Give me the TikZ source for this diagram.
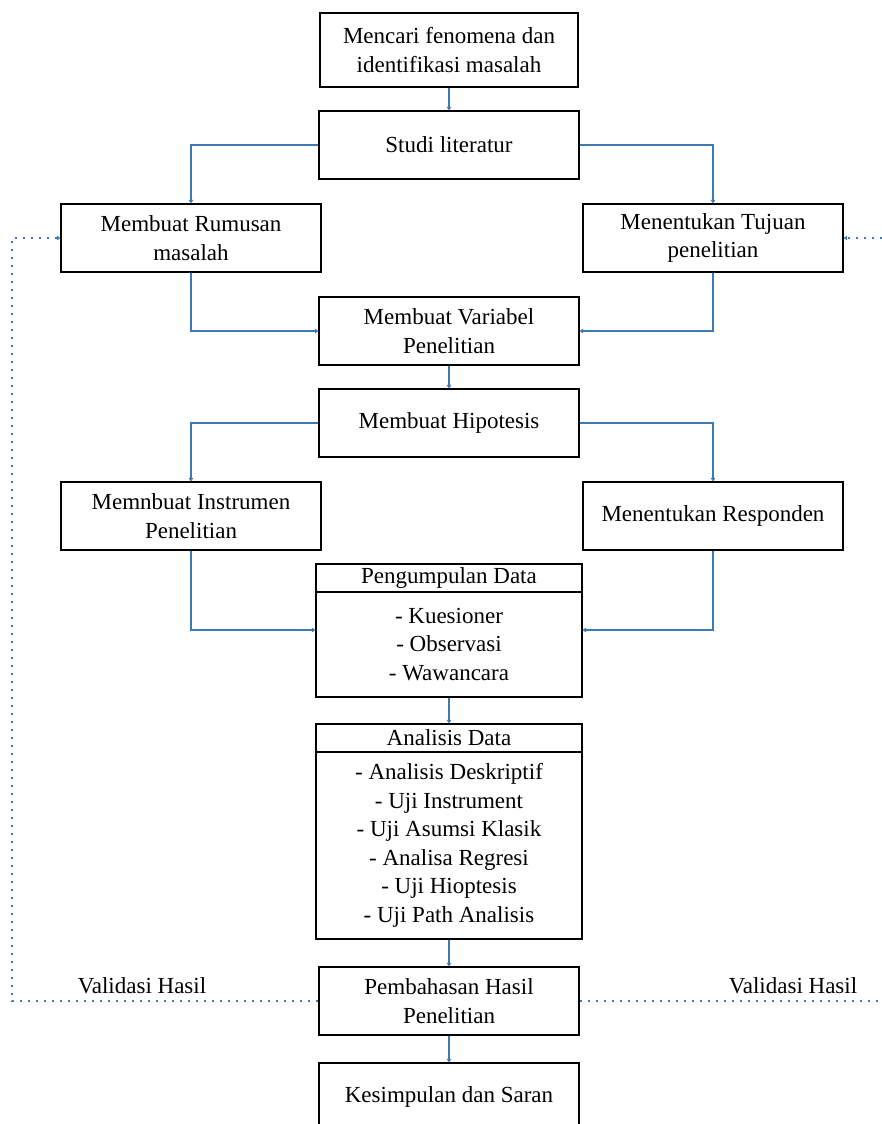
\documentclass[tikz,border=0pt]{standalone}
\usepackage{fontspec}
\setmainfont{Liberation Serif}
\usetikzlibrary{arrows.meta}
\definecolor{conncol}{RGB}{62,122,180}
\tikzset{
  box/.style={draw=black, line width=1.2pt, minimum width=260pt, minimum height=68pt,
    align=center, inner sep=0pt, font=\fontsize{23}{28.5}\selectfont},
  hbox/.style={box, minimum width=266pt},
  conn/.style={draw=conncol, line width=1.3pt, -{Triangle[length=3.5pt,width=4.5pt]}},
  dotconn/.style={draw=conncol, line width=1.8pt, dash pattern=on 2.5pt off 5.5pt, -{Triangle[length=3.5pt,width=4.5pt]}},
  dotline/.style={draw=conncol, line width=1.8pt, dash pattern=on 2.5pt off 5.5pt},
  lbl/.style={font=\fontsize{23}{28.5}\selectfont, inner sep=0pt}
}
\begin{document}
\begin{tikzpicture}[x=1pt,y=-1pt]
\useasboundingbox (0,0) rectangle (882,1124);
\clip (0,0) rectangle (882,1124);
\fill[white] (0,0) rectangle (882,1124);

\node[box, minimum width=258pt, minimum height=74pt] (b1) at (449,50) {Mencari fenomena dan\\identifikasi masalah};
\node[box] (b2) at (449,145) {Studi literatur};
\node[box] (b3) at (191,238) {Membuat Rumusan\\masalah};
\node[box] (b4) at (713,238) {Menentukan Tujuan\\penelitian};
\node[box] (b5) at (449,331) {Membuat Variabel\\Penelitian};
\node[box] (b6) at (449,423) {Membuat Hipotesis};
\node[box] (b7) at (191,516) {Memnbuat Instrumen\\Penelitian};
\node[box] (b8) at (713,516) {Menentukan Responden};
\node[hbox, minimum height=28pt] (b9h) at (449,578) {Pengumpulan Data};
\node[hbox, minimum height=105pt] (b9b) at (449,644.5) {- Kuesioner\\- Observasi\\- Wawancara};
\node[hbox, minimum height=28pt] (b10h) at (449,738) {Analisis Data};
\node[hbox, minimum height=187pt] (b10b) at (449,845.5) {- Analisis Deskriptif\\- Uji Instrument\\- Uji Asumsi Klasik\\- Analisa Regresi\\- Uji Hioptesis\\- Uji Path Analisis};
\node[box] (b11) at (449,1001) {Pembahasan Hasil\\Penelitian};
\node[box] (b12) at (449,1097) {Kesimpulan dan Saran};

\node[lbl] (v1) at (142,986) {Validasi Hasil};
\node[lbl] (v2) at (793,986) {Validasi Hasil};

\coordinate (lc) at (12,238);
\coordinate (rc1) at (890,238);
\coordinate (rc2) at (890,1001);

\draw[conn] (b1.south) -- (b2.north);
\draw[conn] (b2.west) -| (b3.north);
\draw[conn] (b2.east) -| (b4.north);
\draw[conn] (b3.south) |- (b5.west);
\draw[conn] (b4.south) |- (b5.east);
\draw[conn] (b5.south) -- (b6.north);
\draw[conn] (b6.west) -| (b7.north);
\draw[conn] (b6.east) -| (b8.north);
\draw[conn] (b7.south) |- ([yshift=14.5pt]b9b.west);
\draw[conn] (b8.south) |- ([yshift=14.5pt]b9b.east);
\draw[conn] (b9b.south) -- (b10h.north);
\draw[conn] (b10b.south) -- (b11.north);
\draw[conn] (b11.south) -- (b12.north);

\draw[dotconn] (b11.west) -| (lc) -- (b3.west);
\draw[dotconn] (rc1) -- (b4.east);
\draw[dotline] (b11.east) -- (rc2);
\end{tikzpicture}
\end{document}
